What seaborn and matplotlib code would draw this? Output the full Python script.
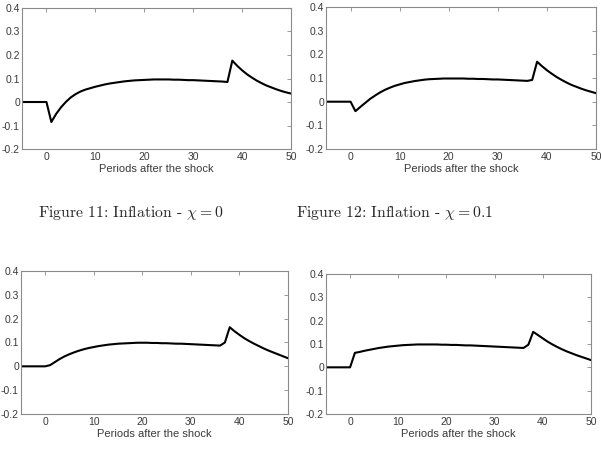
import matplotlib as mpl
import matplotlib.pyplot as plt
import numpy as np
import pandas as pd
import seaborn as sns

# periods after the shock
periods = list(range(-5, 51))

# inflation responses, one value per period (-5 .. 50)
infl_chi_0 = [
    0, 0, 0, 0, 0, 0,
    -0.085, -0.050, -0.022, 0.001, 0.020, 0.034, 0.045, 0.053, 0.059, 0.065,
    0.070, 0.075, 0.079, 0.082, 0.085, 0.088, 0.090, 0.092, 0.093, 0.094,
    0.095, 0.096, 0.096, 0.096, 0.096, 0.095, 0.095, 0.094, 0.093, 0.093,
    0.092, 0.091, 0.090, 0.089, 0.088, 0.087, 0.085,
    0.176, 0.154, 0.135, 0.118, 0.104, 0.091, 0.080, 0.070, 0.062, 0.054,
    0.047, 0.041, 0.036,
]
infl_chi_01 = [
    0, 0, 0, 0, 0, 0,
    -0.040, -0.022, -0.005, 0.012, 0.026, 0.039, 0.050, 0.059, 0.067, 0.073,
    0.079, 0.083, 0.087, 0.090, 0.093, 0.095, 0.096, 0.097, 0.098, 0.098,
    0.098, 0.098, 0.098, 0.097, 0.097, 0.096, 0.096, 0.095, 0.094, 0.094,
    0.093, 0.092, 0.091, 0.090, 0.089, 0.088, 0.092,
    0.169, 0.150, 0.133, 0.118, 0.104, 0.092, 0.081, 0.071, 0.063, 0.055,
    0.048, 0.042, 0.036,
]
infl_chi_c = [
    0, 0, 0, 0, 0, 0,
    0.005, 0.018, 0.031, 0.042, 0.051, 0.059, 0.066, 0.072, 0.077, 0.081,
    0.085, 0.088, 0.091, 0.093, 0.095, 0.096, 0.097, 0.098, 0.099, 0.099,
    0.099, 0.098, 0.098, 0.097, 0.097, 0.096, 0.095, 0.095, 0.094, 0.093,
    0.092, 0.091, 0.090, 0.089, 0.088, 0.087, 0.100,
    0.164, 0.147, 0.132, 0.118, 0.106, 0.095, 0.085, 0.075, 0.066, 0.058,
    0.050, 0.042, 0.034,
]
infl_chi_d = [
    0, 0, 0, 0, 0, 0,
    0.062, 0.066, 0.071, 0.075, 0.079, 0.083, 0.086, 0.089, 0.091, 0.093,
    0.095, 0.096, 0.097, 0.098, 0.098, 0.098, 0.098, 0.098, 0.097, 0.097,
    0.096, 0.096, 0.095, 0.094, 0.094, 0.093, 0.092, 0.091, 0.090, 0.089,
    0.088, 0.087, 0.086, 0.085, 0.084, 0.083, 0.097,
    0.152, 0.138, 0.124, 0.110, 0.098, 0.087, 0.077, 0.068, 0.060, 0.052,
    0.045, 0.038, 0.031,
]

captions = ['Figure 11: Inflation - $\\chi = 0$',
            'Figure 12: Inflation - $\\chi = 0.1$']
x_ticks = [0, 10, 20, 30, 40, 50]
y_ticks = [-0.2, -0.1, 0, 0.1, 0.2, 0.3, 0.4]
y_tick_labels = ['-0.2', '-0.1', '0', '0.1', '0.2', '0.3', '0.4']

sns.set_style('white')
mpl.rcParams.update({
    'font.family': ['Liberation Sans', 'DejaVu Sans'],
    'mathtext.fontset': 'cm',
    'xtick.direction': 'in',
    'ytick.direction': 'in',
})

fig = plt.figure(figsize=(6.01, 4.67), dpi=100)

# axes boxes in figure fractions [left, bottom, width, height]
boxes = [
    [0.0366, 0.6809, 0.4476, 0.3020],
    [0.5424, 0.6809, 0.4493, 0.3040],
    [0.0349, 0.1135, 0.4443, 0.3062],
    [0.5424, 0.1135, 0.4410, 0.2998],
]
series = [infl_chi_0, infl_chi_01, infl_chi_c, infl_chi_d]

frame_col = '#8a8a8a'
text_col = '#3a3a3a'

for box, vals in zip(boxes, series):
    ax = fig.add_axes(box)
    df = pd.DataFrame({'period': periods, 'inflation': vals})
    sns.lineplot(data=df, x='period', y='inflation', ax=ax,
                 color='black', linewidth=1.5)
    ax.set_xlim(-5, 50)
    ax.set_ylim(-0.2, 0.4)
    ax.set_xticks(x_ticks)
    ax.set_yticks(y_ticks)
    ax.set_yticklabels(y_tick_labels)
    ax.tick_params(axis='both', which='both', labelsize=7.5,
                   colors=frame_col, labelcolor=text_col,
                   length=3, width=0.6, pad=2,
                   top=True, right=True)
    ax.tick_params(axis='y', pad=1.5)
    for sp in ax.spines.values():
        sp.set_visible(True)
        sp.set_color(frame_col)
        sp.set_linewidth(0.8)
    ax.set_xlabel('Periods after the shock', fontsize=8,
                  color=text_col, labelpad=1.5)
    ax.set_ylabel('')

fig.text(0.218, 0.544, captions[0], ha='center', va='center',
         fontsize=11.3, family='cmr10', math_fontfamily='cm')
fig.text(0.657, 0.544, captions[1], ha='center', va='center',
         fontsize=11.3, family='cmr10', math_fontfamily='cm')

fig.savefig('out.png', dpi=100)
